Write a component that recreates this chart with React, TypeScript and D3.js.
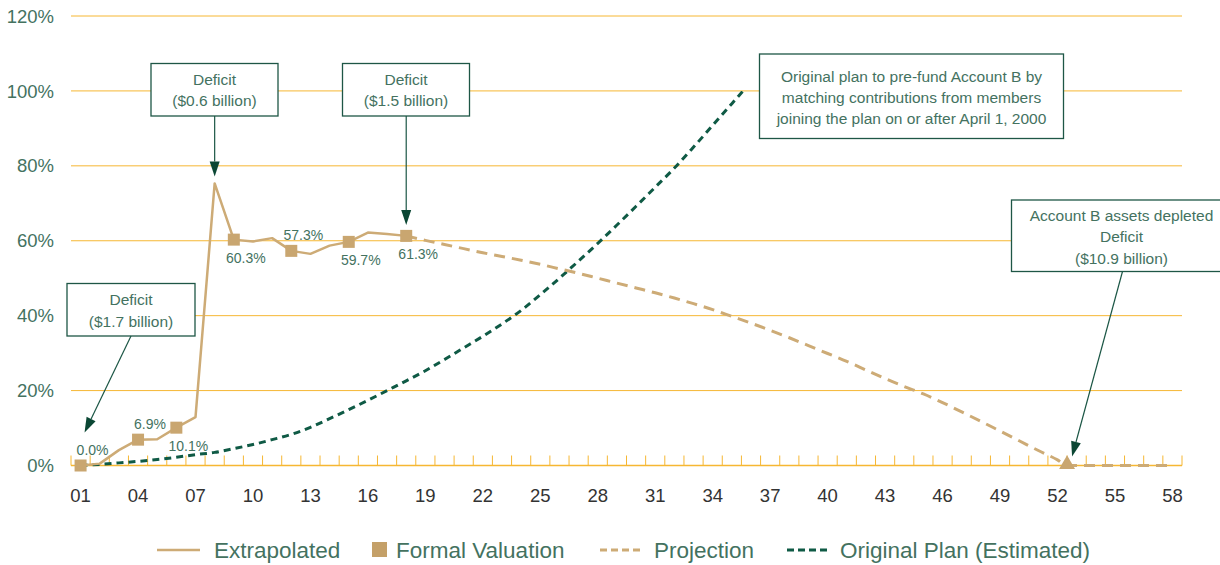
import React, { useEffect, useRef } from 'react';
import * as d3 from 'd3';

// fiscal years 2001..2058 shown as "01".."58"
const xTickYears = [1, 4, 7, 10, 13, 16, 19, 22, 25, 28, 31, 34, 37, 40, 43, 46, 49, 52, 55, 58];
const xTickLabels = ["01", "04", "07", "10", "13", "16", "19", "22", "25", "28", "31", "34", "37", "40", "43", "46", "49", "52", "55", "58"];
const yTicks = [0, 20, 40, 60, 80, 100, 120];

const extrapYears = [1, 2, 3, 4, 5, 6, 7, 8, 9, 10, 11, 12, 13, 14, 15, 16, 17, 18];
const extrapValues = [0, 0.5, 4.1, 6.9, 7.0, 10.1, 12.9, 75.3, 60.3, 59.8, 60.7, 57.3, 56.5, 58.7, 59.7, 62.2, 61.8, 61.3];

const formalYears = [1, 4, 6, 9, 12, 15, 18];
const formalValues = [0.0, 6.9, 10.1, 60.3, 57.3, 59.7, 61.3];
const formalLabelSide = ["above", "above", "below", "below", "above", "below", "below"];

const projYears = [18, 19, 20, 21, 22, 23, 24, 25, 26, 27, 28, 29, 30, 31, 32, 33, 34, 35, 36, 37, 38, 39, 40, 41, 42, 43, 44, 45, 46, 47, 48, 49, 50, 51, 52, 52.5, 53, 54, 55, 56, 57, 58];
const projValues = [61.3, 60.1, 59.0, 57.9, 56.8, 55.8, 54.8, 53.7, 52.5, 51.3, 50.0, 48.7, 47.4, 46.1, 44.7, 43.2, 41.6, 39.8, 38.0, 36.1, 34.1, 32.0, 29.9, 27.8, 25.5, 23.2, 21.1, 19.1, 16.8, 14.3, 11.8, 9.2, 6.6, 4.0, 1.5, 0, 0, 0, 0, 0, 0, 0];

const planYears = [1, 2, 3, 4, 5, 6, 7, 8, 9, 10, 11, 12, 13, 14, 15, 16, 17, 18, 19, 20, 21, 22, 23, 24, 25, 26, 27, 28, 29, 30, 31, 32, 33, 34, 35, 36];
const planValues = [0, 0.3, 0.7, 1.1, 1.6, 2.2, 2.9, 3.5, 4.5, 5.6, 6.9, 8.3, 10.2, 12.5, 14.9, 17.4, 20.0, 22.6, 25.3, 28.3, 31.4, 34.5, 37.8, 41.4, 45.6, 50.0, 54.6, 59.3, 64.2, 69.2, 74.3, 79.4, 85.0, 90.8, 96.6, 102.4];

const legendItems = ["Extrapolated", "Formal Valuation", "Projection", "Original Plan (Estimated)"];

const FONT = '"Liberation Sans", Arial, sans-serif';
const GOLD = "#f6b733";
const TAN = "#cdab76";
const TAN_MARK = "#c9a670";
const GREEN = "#0f5a45";
const TEXT_GREEN = "#44725f";
const BOX_GREEN = "#1e5646";

const App: React.FC = () => {
  const svgRef = useRef<SVGSVGElement>(null);

  useEffect(() => {
    document.body.style.margin = "0";
    if (!svgRef.current) return;
    const svg = d3.select(svgRef.current);
    svg.selectAll("*").remove();

    const x = d3.scaleLinear().domain([0.5, 58.5]).range([71, 1182]);
    const y = d3.scaleLinear().domain([0, 120]).range([465.5, 16]);

    // gridlines
    svg.append("g")
      .selectAll("line")
      .data(yTicks)
      .join("line")
      .attr("x1", x(0.5)).attr("x2", x(58.5))
      .attr("y1", d => y(d)).attr("y2", d => y(d))
      .attr("stroke", GOLD)
      .attr("stroke-width", d => d === 0 ? 1.6 : 1);

    // y labels
    svg.append("g")
      .selectAll("text")
      .data(yTicks)
      .join("text")
      .attr("x", 54)
      .attr("y", d => y(d))
      .attr("dy", "0.36em")
      .attr("text-anchor", "end")
      .attr("font-family", FONT)
      .attr("font-size", 18.5)
      .attr("fill", TEXT_GREEN)
      .text(d => d + "%");

    // minor ticks between years, pointing up
    svg.append("g")
      .selectAll("line")
      .data(d3.range(0.5, 59, 1))
      .join("line")
      .attr("x1", d => x(d)).attr("x2", d => x(d))
      .attr("y1", y(0)).attr("y2", y(0) - 10)
      .attr("stroke", GOLD)
      .attr("stroke-width", 1);

    // x labels
    svg.append("g")
      .selectAll("text")
      .data(xTickYears)
      .join("text")
      .attr("x", d => x(d))
      .attr("y", 502)
      .attr("text-anchor", "middle")
      .attr("font-family", FONT)
      .attr("font-size", 18.5)
      .attr("fill", "#333")
      .text((d, i) => xTickLabels[i]);

    const line = d3.line<[number, number]>()
      .x(d => x(d[0]))
      .y(d => y(d[1]));

    // original plan, cut off at 100%
    svg.append("clipPath").attr("id", "clip100")
      .append("rect")
      .attr("x", 0).attr("y", y(100))
      .attr("width", 1220).attr("height", 565);

    svg.append("path")
      .datum(planYears.map((yr, i) => [yr, planValues[i]] as [number, number]))
      .attr("clip-path", "url(#clip100)")
      .attr("fill", "none")
      .attr("stroke", GREEN)
      .attr("stroke-width", 3)
      .attr("stroke-dasharray", "7,5")
      .attr("d", line.curve(d3.curveMonotoneX));

    // projection
    svg.append("path")
      .datum(projYears.map((yr, i) => [yr, projValues[i]] as [number, number]))
      .attr("fill", "none")
      .attr("stroke", TAN)
      .attr("stroke-width", 3)
      .attr("stroke-dasharray", "11,7")
      .attr("d", line.curve(d3.curveMonotoneX));

    // extrapolated
    svg.append("path")
      .datum(extrapYears.map((yr, i) => [yr, extrapValues[i]] as [number, number]))
      .attr("fill", "none")
      .attr("stroke", TAN)
      .attr("stroke-width", 2.5)
      .attr("stroke-linejoin", "round")
      .attr("d", line.curve(d3.curveLinear));

    // formal valuation markers
    svg.append("g")
      .selectAll("rect")
      .data(formalYears)
      .join("rect")
      .attr("x", d => x(d) - 6)
      .attr("y", (d, i) => y(formalValues[i]) - 6)
      .attr("width", 12).attr("height", 12)
      .attr("fill", TAN_MARK);

    svg.append("g")
      .selectAll("text")
      .data(formalYears)
      .join("text")
      .attr("x", d => x(d) + 12)
      .attr("y", (d, i) => y(formalValues[i]) + (formalLabelSide[i] === "above" ? -16 : 18))
      .attr("dy", "0.36em")
      .attr("text-anchor", "middle")
      .attr("font-family", FONT)
      .attr("font-size", 14)
      .attr("fill", TEXT_GREEN)
      .text((d, i) => formalValues[i].toFixed(1) + "%");

    // depletion triangle
    const depYear = projYears[projValues.indexOf(0)];
    svg.append("path")
      .attr("transform", `translate(${x(depYear)},${y(0) - 1})`)
      .attr("d", d3.symbol(d3.symbolTriangle, 110)())
      .attr("fill", TAN_MARK);

    // annotations
    const arrow = (x1: number, y1: number, x2: number, y2: number) => {
      const a = Math.atan2(y2 - y1, x2 - x1);
      const len = 15, hw = 5;
      const bx = x2 - len * Math.cos(a), by = y2 - len * Math.sin(a);
      svg.append("line")
        .attr("x1", x1).attr("y1", y1).attr("x2", bx).attr("y2", by)
        .attr("stroke", "#1b5645").attr("stroke-width", 1.2);
      svg.append("path")
        .attr("d", `M${x2},${y2}L${bx + hw * Math.sin(a)},${by - hw * Math.cos(a)}L${bx - hw * Math.sin(a)},${by + hw * Math.cos(a)}Z`)
        .attr("fill", "#0b4734");
    };

    const box = (x0: number, y0: number, w: number, h: number, lines: string[], lineY: number[], size: number) => {
      svg.append("rect")
        .attr("x", x0).attr("y", y0).attr("width", w).attr("height", h)
        .attr("fill", "#fff").attr("stroke", BOX_GREEN).attr("stroke-width", 1.3);
      svg.append("g")
        .selectAll("text")
        .data(lines)
        .join("text")
        .attr("x", x0 + w / 2)
        .attr("y", (d, i) => lineY[i])
        .attr("dy", "0.36em")
        .attr("text-anchor", "middle")
        .attr("font-family", FONT)
        .attr("font-size", size)
        .attr("fill", TEXT_GREEN)
        .text(d => d);
    };

    box(67, 283.5, 128, 52.5, ["Deficit", "($1.7 billion)"], [299.5, 321.5], 15.5);
    arrow(131, 336, x(1) + 4, y(0) - 33);

    box(151, 63.5, 127, 52.5, ["Deficit", "($0.6 billion)"], [79.5, 100.5], 15.5);
    arrow(x(8), 116, x(8), y(75.3) - 7);

    box(342.5, 63.5, 127, 52.5, ["Deficit", "($1.5 billion)"], [79.5, 100.5], 15.5);
    arrow(x(18), 116, x(18), y(61.3) - 11);

    box(759.5, 54, 304, 84.5, [
      "Original plan to pre-fund Account B by",
      "matching contributions from members",
      "joining the plan on or after April 1, 2000"
    ], [76, 97.5, 118.5], 15.5);

    box(1011.5, 200, 220, 71.5, ["Account B assets depleted", "Deficit", "($10.9 billion)"], [215, 236.5, 258.5], 15.5);
    arrow(1122.5, 271.5, x(depYear) + 5, y(0) - 9);

    // legend
    const lg = svg.append("g").attr("font-family", FONT).attr("font-size", 22.5).attr("fill", TEXT_GREEN);
    const ly = 550;
    lg.append("line").attr("x1", 157).attr("x2", 200).attr("y1", ly).attr("y2", ly)
      .attr("stroke", TAN).attr("stroke-width", 2.5);
    lg.append("text").attr("x", 214).attr("y", ly).attr("dy", "0.36em").text(legendItems[0]);
    lg.append("rect").attr("x", 372).attr("y", ly - 8).attr("width", 15).attr("height", 15).attr("fill", "#c4a068");
    lg.append("text").attr("x", 396).attr("y", ly).attr("dy", "0.36em").text(legendItems[1]);
    lg.append("line").attr("x1", 600).attr("x2", 642).attr("y1", ly).attr("y2", ly)
      .attr("stroke", TAN).attr("stroke-width", 3).attr("stroke-dasharray", "7,4");
    lg.append("text").attr("x", 654).attr("y", ly).attr("dy", "0.36em").text(legendItems[2]);
    lg.append("line").attr("x1", 787).attr("x2", 830).attr("y1", ly).attr("y2", ly)
      .attr("stroke", GREEN).attr("stroke-width", 3).attr("stroke-dasharray", "7,4");
    lg.append("text").attr("x", 840).attr("y", ly).attr("dy", "0.36em").text(legendItems[3]);
  }, []);

  return <svg ref={svgRef} width={1220} height={565} style={{ display: 'block', background: '#fff' }} />;
};

export default App;
